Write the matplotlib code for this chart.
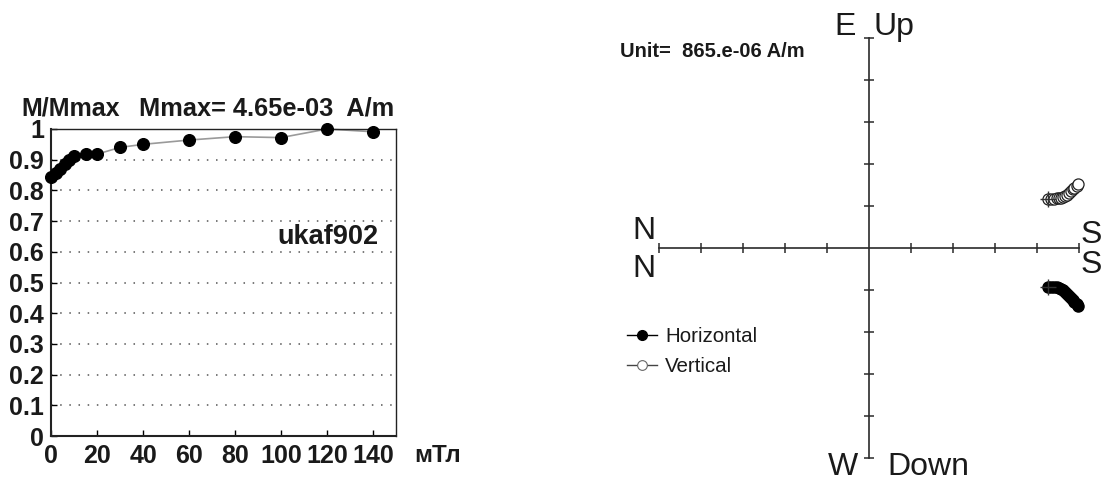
import matplotlib.pyplot as plt
from matplotlib.lines import Line2D

plt.rcParams['font.family'] = ['Liberation Sans', 'DejaVu Sans']

# AF demagnetization steps, mT
fields = [0, 2, 4, 6, 8, 10, 15, 20, 30, 40, 60, 80, 100, 120, 140]
# normalised intensity M/Mmax
mrel = [0.843, 0.856, 0.870, 0.885, 0.900, 0.912, 0.918, 0.918,
        0.940, 0.950, 0.964, 0.975, 0.972, 1.000, 0.991]

# orthogonal projection components, in units of 865e-06 A/m
south = [4.27, 4.33, 4.40, 4.47, 4.53, 4.58, 4.62, 4.66,
         4.72, 4.77, 4.82, 4.86, 4.88, 4.95, 4.97]
east = [-0.92, -0.92, -0.93, -0.94, -0.96, -0.98, -1.01, -1.04,
        -1.09, -1.14, -1.19, -1.24, -1.28, -1.33, -1.37]
up = [1.16, 1.16, 1.17, 1.18, 1.19, 1.20, 1.22, 1.24,
      1.27, 1.31, 1.35, 1.40, 1.44, 1.48, 1.52]

xticks = [0, 20, 40, 60, 80, 100, 120, 140]
yticks = [0, 0.1, 0.2, 0.3, 0.4, 0.5, 0.6, 0.7, 0.8, 0.9, 1.0]
ytick_labels = ['0', '0.1', '0.2', '0.3', '0.4', '0.5', '0.6', '0.7', '0.8', '0.9', '1']
zticks = [-5, -4, -3, -2, -1, 1, 2, 3, 4, 5]

W, H = 1105, 482
fig = plt.figure(figsize=(W / 100, H / 100), dpi=100)


def fx(x):
    return x / W


def fy(y):
    return 1 - y / H


# --- intensity decay curve ---
ax = fig.add_axes([fx(51), fy(436), fx(396) - fx(51), fy(129) - fy(436)])
ax.plot(fields, mrel, color='#9a9a9a', lw=1.2, zorder=2, clip_on=False)
ax.plot(fields, mrel, 'o', color='black', ms=8.4, zorder=3, clip_on=False)
ax.set_xlim(0, 150)
ax.set_ylim(0, 1)
ax.set_xticks(xticks)
ax.set_yticks(yticks)
ax.set_yticklabels(ytick_labels)
for t in yticks[1:-1]:
    ax.axhline(t, color='#555555', lw=1.1, ls=(0, (1, 5)), zorder=1)
ax.tick_params(axis='both', direction='in', length=4, width=1, labelsize=18, pad=5)
ax.tick_params(axis='x', pad=6)
for lab in ax.get_xticklabels() + ax.get_yticklabels():
    lab.set_fontweight('bold')
    lab.set_color('#1a1a1a')
ax.spines['left'].set_linewidth(1.5)
ax.spines['bottom'].set_linewidth(1.5)
ax.spines['top'].set_linewidth(1.0)
ax.spines['right'].set_linewidth(1.0)
for s in ax.spines.values():
    s.set_color('#222222')

txt_kw = dict(fontweight='bold', color='#1a1a1a', va='baseline')
fig.text(fx(21), fy(116), 'M/Mmax', fontsize=18, **txt_kw)
fig.text(fx(139), fy(116), 'Mmax= 4.65e-03  A/m', fontsize=18.3, **txt_kw)
fig.text(fx(277), fy(244), 'ukaf902', fontsize=19.5, **txt_kw)
fig.text(fx(414), fy(462), 'мТл', fontsize=17.5, **txt_kw)

# --- Zijderveld diagram ---
az = fig.add_axes([fx(620), 0, fx(1105) - fx(620), 1])
az.set_xlim((620 - 869) / 42, (1105 - 869) / 42)
az.set_ylim((248 - 482) / 42, 248 / 42)
az.axis('off')

ac = '#2a2a2a'
az.plot([-5, 5], [0, 0], color=ac, lw=1.2)
az.plot([0, 0], [-5, 5], color=ac, lw=1.2)
az.plot(zticks, [0] * len(zticks), '|', color=ac, ms=7, mew=1.1)
az.plot([0] * len(zticks), zticks, '_', color=ac, ms=7, mew=1.1)

# horizontal projection (S, E) and vertical projection (S, Up)
az.plot(south, east, '-', color='black', lw=1, zorder=3)
az.plot(south, east, 'o', color='black', ms=8, zorder=4)
az.plot(south, up, '-', color='black', lw=1, zorder=3)
az.plot(south, up, 'o', mfc='white', mec='#222222', mew=0.9, ms=8, zorder=4)
az.plot(south[0], east[0], '+', color='#333333', ms=12, mew=1, zorder=5)
az.plot(south[0], up[0], '+', color='#333333', ms=12, mew=1, zorder=5)

lab_kw = dict(fontsize=23, color='#1a1a1a', va='baseline')
az.text((845 - 869) / 42, (248 - 35) / 42, 'E', ha='center', **lab_kw)
az.text((874 - 869) / 42, (248 - 35) / 42, 'Up', ha='left', **lab_kw)
az.text((843 - 869) / 42, (248 - 475) / 42, 'W', ha='center', **lab_kw)
az.text((887 - 869) / 42, (248 - 475) / 42, 'Down', ha='left', **lab_kw)
az.text((644 - 869) / 42, (248 - 239) / 42, 'N', ha='center', **lab_kw)
az.text((644 - 869) / 42, (248 - 277) / 42, 'N', ha='center', **lab_kw)
az.text((1091 - 869) / 42, (248 - 243) / 42, 'S', ha='center', **lab_kw)
az.text((1091 - 869) / 42, (248 - 273) / 42, 'S', ha='center', **lab_kw)

fig.text(fx(620), fy(57), 'Unit=  865.e-06 A/m', fontsize=14.5, fontweight='bold', color='#1a1a1a')

handles = [
    Line2D([], [], color='black', lw=1, marker='o', ms=7, mfc='black', mec='black'),
    Line2D([], [], color='#444444', lw=1, marker='o', ms=7, mfc='white', mec='#666666', mew=0.8),
]
fig.legend(handles, ['Horizontal', 'Vertical'], loc='upper left',
           bbox_to_anchor=(fx(627), fy(327)), frameon=False, fontsize=14.8,
           handlelength=1.45, handletextpad=0.4, labelspacing=0.55,
           borderpad=0, borderaxespad=0, labelcolor='#1a1a1a')

fig.savefig('out.png', dpi=100)
